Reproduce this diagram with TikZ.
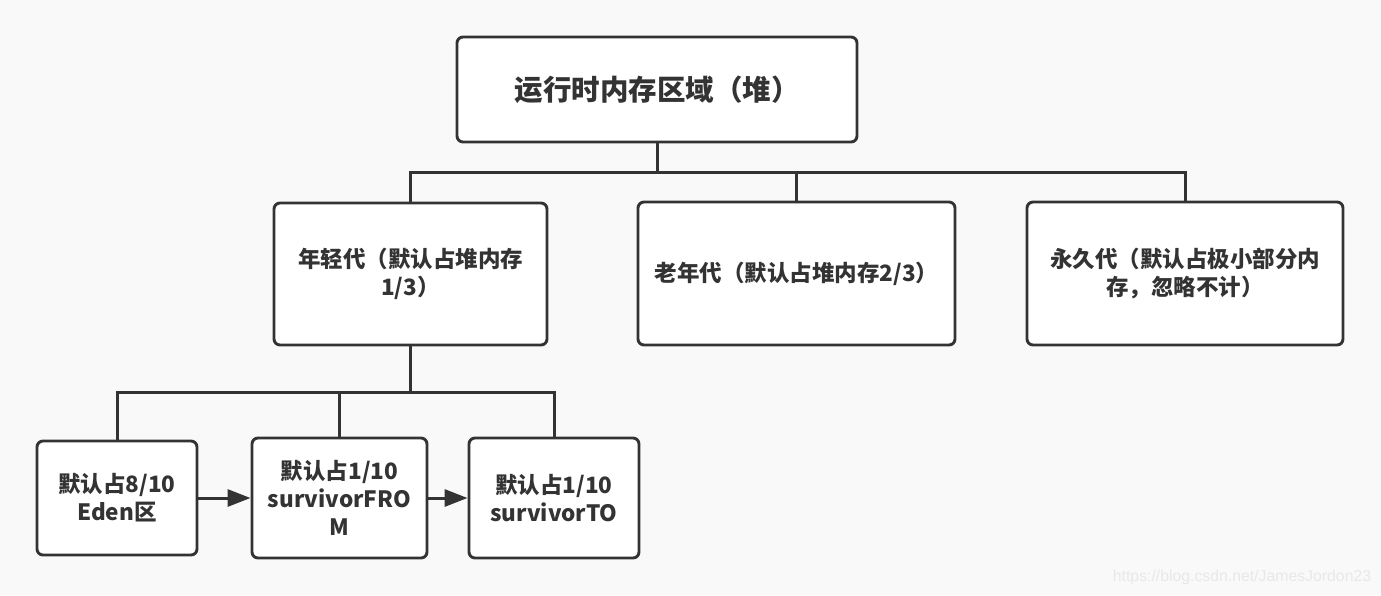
\documentclass[tikz,border=0pt]{standalone}
\usepackage{fontspec}
\setmainfont{Noto Sans CJK SC}
\newfontfamily\markfont{Liberation Sans}
\usetikzlibrary{positioning,arrows.meta,calc}
\definecolor{ink}{HTML}{333333}
\definecolor{paper}{HTML}{F9F9F9}
\definecolor{markgray}{HTML}{E8E8E8}

\begin{document}
\begin{tikzpicture}[
  x=1pt, y=-1pt,
  box/.style={draw=ink, line width=2.9pt, rounded corners=6pt, fill=white,
    text=ink, font=\bfseries\fontsize{22.5}{28}\selectfont, align=center,
    inner sep=0pt},
  link/.style={draw=ink, line width=3pt},
  flow/.style={link, -{Triangle[length=23pt, width=17pt]}},
  wmark/.style={font=\markfont\fontsize{15.8}{18}\selectfont, text=markgray,
    inner sep=0pt}
]
  % --- canvas ------------------------------------------------------------
  \fill[paper] (0,0) rectangle (1381,595);
  \useasboundingbox (0,0) rectangle (1381,595);

  % --- root --------------------------------------------------------------
  \node[box, minimum width=400pt, minimum height=105pt,
    font=\bfseries\fontsize{28.5}{34}\selectfont] (heap) at (657,89.5)
    {运行时内存区域（堆）};

  % --- generations -------------------------------------------------------
  \node[box, minimum width=273pt, minimum height=142pt] (young) at (410.5,274)
    {年轻代（默认占堆内存\\1/3）};
  \node[box, minimum width=317pt, minimum height=143pt] (old) at (796.5,273.5)
    {老年代（默认占堆内存2/3）};
  \node[box, minimum width=316pt, minimum height=143pt] (perm) at (1185,273.5)
    {永久代（默认占极小部分内\\存，忽略不计）};

  % --- young generation parts -------------------------------------------
  \node[box, minimum width=160pt, minimum height=114pt] (eden) at (117,498)
    {默认占8/10\\Eden区};
  \node[box, minimum width=175pt, minimum height=120pt] (from) at (339.5,498)
    {默认占1/10\\survivorFRO\\M};
  \node[box, minimum width=170pt, minimum height=120pt] (to) at (554,498)
    {默认占1/10\\survivorTO};

  % --- tree connectors ---------------------------------------------------
  \coordinate (busA) at (657,172);
  \coordinate (busB) at (410.5,392);
  \draw[link] (heap) -- (busA);
  \draw[link] (young) |- (busA) -| (perm);
  \draw[link] (old) -- (old |- busA);

  \draw[link] (young) -- (busB);
  \draw[link] (eden) |- (busB) -| (to);
  \draw[link] (from) -- (from |- busB);

  % --- copy flow -----------------------------------------------------------
  \draw[flow] (eden) -- (from);
  \draw[flow] (from) -- (to);

  \node[wmark] (url) at (1242,577) {https://blog.csdn.net/JamesJordon23};
\end{tikzpicture}
\end{document}
